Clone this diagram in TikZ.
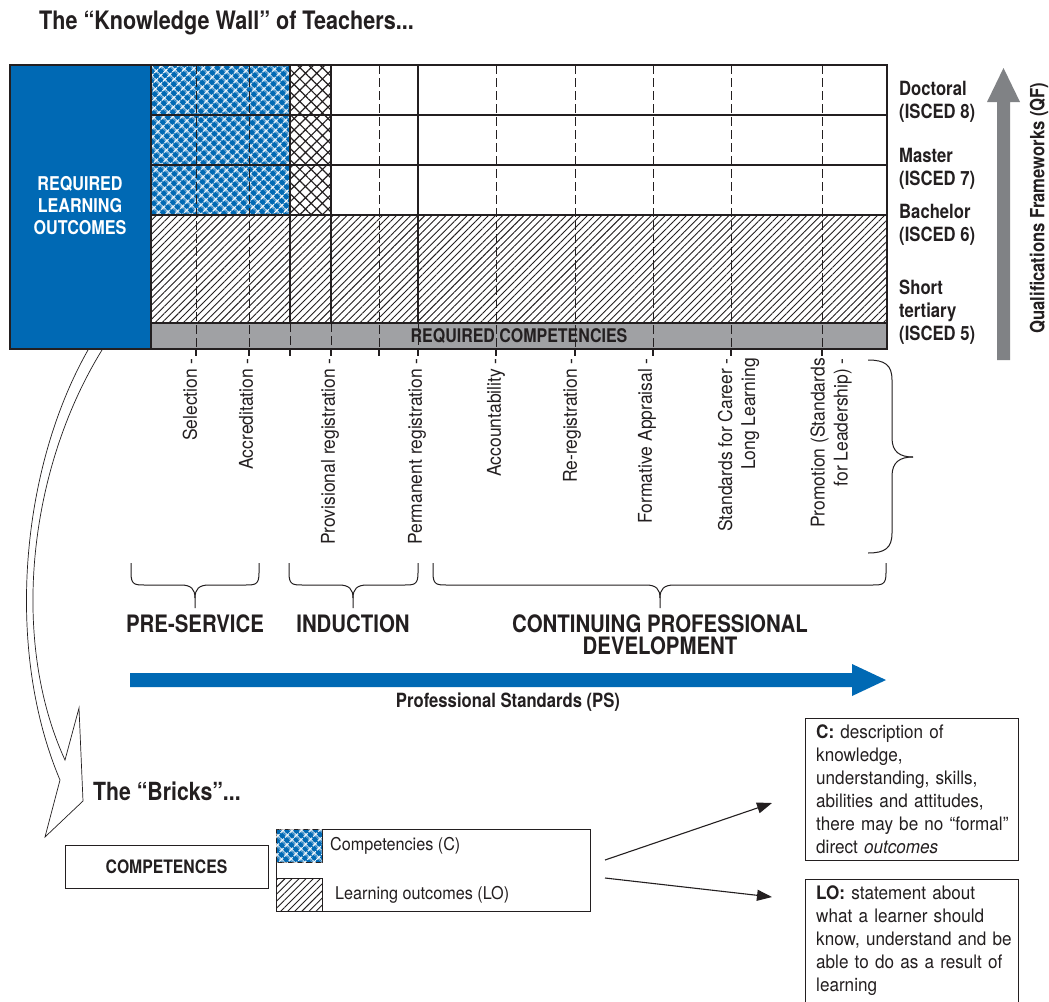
\documentclass[tikz,border=0pt]{standalone}
\usepackage{fontspec}
\setmainfont{TeX Gyre Heros}[FakeStretch=0.92]
\newfontfamily\bcn{TeX Gyre Heros}[FakeStretch=0.85]
\usetikzlibrary{patterns.meta,arrows.meta}
\definecolor{wallblue}{RGB}{0,105,180}
\definecolor{bandgray}{RGB}{160,161,164}
\definecolor{arrowgray}{RGB}{128,130,133}
\definecolor{ink}{RGB}{35,31,32}
\tikzset{
  hd/.style={font=\bcn\bfseries\fontsize{24}{22}\selectfont, text=ink, inner sep=0pt},
  sm/.style={font=\bcn\bfseries\fontsize{19.6}{23}\selectfont, text=ink, inner sep=0pt},
  reg/.style={font=\fontsize{19}{23}\selectfont, text=ink, inner sep=0pt},
  boxtxt/.style={font=\fontsize{18.6}{23}\selectfont, text=ink, inner sep=0pt, anchor=north west, text width=200pt, align=left},
  rl/.style={font=\fontsize{19}{23}\selectfont, rotate=90, anchor=east, align=right, inner sep=0pt, text=ink},
  dsh/.style={draw=ink, dash pattern=on 9pt off 4pt, line width=1pt},
  sol/.style={draw=ink, line width=1.1pt},
  bluepat/.style={fill=wallblue, postaction={pattern={Hatch[angle=45,distance=6.5pt,line width=1.5pt]}, pattern color=white}},
  hatchpat/.style={pattern={Lines[angle=45,distance=5pt,line width=0.9pt]}, pattern color=ink},
  crosspat/.style={pattern={Hatch[angle=45,distance=8pt,line width=1.2pt]}, pattern color=ink},
  brc/.style={draw=ink, line width=1pt},
}
\newcommand{\hbr}[3]{%
  \draw[brc] (#1,563) -- (#1,573) .. controls (#1,585) and ({#1+4},585) .. ({#1+14},585) -- ({#3-14},585) .. controls ({#3-4},585) and (#3,589) .. (#3,598) -- (#3,608);
  \draw[brc] (#2,563) -- (#2,573) .. controls (#2,585) and ({#2-4},585) .. ({#2-14},585) -- ({#3+14},585) .. controls ({#3+4},585) and (#3,589) .. (#3,598);}
\begin{document}
\begin{tikzpicture}[x=1pt,y=-1pt]
\useasboundingbox[fill=white] (0,0) rectangle (1049,1001);
% title
\node[hd, font=\bcn\bfseries\fontsize{25.4}{25}\selectfont, anchor=base west] (title) at (39,29) {The “Knowledge Wall” of Teachers...};
% wall regions
\fill[wallblue] (10,65) rectangle (151,349);
\path[bluepat] (151,65) rectangle (290,215);
\path[crosspat] (290,65) rectangle (331,215);
\path[hatchpat] (151,215) rectangle (887,323);
\fill[bandgray] (151,323) rectangle (887,349);
\foreach \yy in {115,165,215,323} \draw[sol] (151,\yy) -- (887,\yy);
\foreach \x in {196,249,379,496,575,653,731,822} \draw[dsh] (\x,65) -- (\x,349);
\foreach \x in {290,331,418} {\draw[sol] (\x,65) -- (\x,323); \draw[dsh] (\x,323) -- (\x,349);}
\foreach \x in {196,249,290,331,379,418,496,575,653,731,822} \draw[sol] (\x,349) -- (\x,356);
\draw[sol] (10,65) rectangle (887,349);
\draw[sol] (151,65) -- (151,349);
\node[font=\bcn\bfseries\fontsize{19}{22}\selectfont, text=white, align=center, inner sep=0pt] (rlo) at (80,206) {REQUIRED\\LEARNING\\OUTCOMES};
\node[sm, font=\bcn\bfseries\fontsize{18.8}{22}\selectfont] (rc) at (519,336) {REQUIRED COMPETENCIES};
% level labels
\node[sm, anchor=west, align=left] (doc) at (899,101.5) {Doctoral\\(ISCED 8)};
\node[sm, anchor=west, align=left] (mas) at (899,169) {Master\\(ISCED 7)};
\node[sm, anchor=west, align=left] (bac) at (899,224.5) {Bachelor\\(ISCED 6)};
\node[sm, anchor=west, align=left] (sho) at (899,312.5) {Short\\tertiary\\(ISCED 5)};
% QF arrow
\fill[arrowgray] (997,360) -- (997,102) -- (987,102) -- (1003.5,68) -- (1020,102) -- (1010,102) -- (1010,360) -- cycle;
\node[sm, rotate=90] (qf) at (1039,208) {Qualifications Frameworks (QF)};
% rotated labels
\node[rl] (l1) at (190,358) {Selection -};
\node[rl] (l2) at (246,358) {Accreditation -};
\node[rl] (l3) at (330,358) {Provisional registration -};
\node[rl] (l4) at (417,358) {Permanent registration -};
\node[rl] (l5) at (496,358) {Accountability -};
\node[rl] (l6) at (572,358) {Re-registration -};
\node[rl] (l7) at (647,358) {Formative Appraisal -};
\node[rl] (l8) at (738.5,358) {Standards for Career -\\Long Learning};
\node[rl] (l9) at (831,358) {Promotion (Standards\\for Leadership) -};
% right brace
\draw[brc] (868,360) .. controls (885,360) and (892,365) .. (892,380) -- (892,438) .. controls (892,452) and (900,457) .. (913,457);
\draw[brc] (868,553) .. controls (885,553) and (892,548) .. (892,533) -- (892,476) .. controls (892,462) and (900,457) .. (913,457);
% phase braces
\hbr{131}{259}{195}
\hbr{289}{418}{353}
\hbr{433}{886}{660}
\node[hd] (pre) at (195,624) {PRE-SERVICE};
\node[hd] (ind) at (353,624) {INDUCTION};
\node[hd, align=center] (cpd) at (660,635) {CONTINUING PROFESSIONAL\\DEVELOPMENT};
% PS arrow
\fill[wallblue] (130,673) -- (852,673) -- (852,664) -- (886,680) -- (852,696) -- (852,687) -- (130,687) -- cycle;
\node[sm] (pstd) at (508,702) {Professional Standards (PS)};
% hollow curved arrow
\draw[draw=ink, line width=0.7pt, fill=white] (88,350) .. controls (20,470) and (5,650) .. (60,780) -- (45,837) -- (83,801) -- (79,708) -- (65,760) .. controls (10,640) and (28,470) .. (102,350);
% bricks
\node[hd, font=\bcn\bfseries\fontsize{25}{25}\selectfont, anchor=base west] (bricks) at (93,800) {The “Bricks”...};
\node[draw=ink, line width=1pt, minimum width=203pt, minimum height=43pt, font=\bcn\bfseries\fontsize{18.5}{22}\selectfont, text=ink] (comp) at (166.5,866.5) {COMPETENCES};
\node[draw=ink, line width=1pt, minimum width=314pt, minimum height=82pt, inner sep=0pt] (legend) at (433,870) {};
\path[bluepat, draw=ink, line width=1pt] (276,829) rectangle (322,862);
\path[hatchpat, draw=ink, line width=1pt] (276,878) rectangle (322,911);
\node[reg, font=\fontsize{17.6}{22}\selectfont, anchor=west] (lc) at (330,846) {Competencies (C)};
\node[reg, font=\fontsize{17.6}{22}\selectfont, anchor=west] (llo) at (335,895) {Learning outcomes (LO)};
% arrows
\coordinate (a0) at (605,860); \coordinate (a1) at (772,803);
\coordinate (b0) at (605,878); \coordinate (b1) at (772,897);
\draw[draw=ink, line width=1.1pt, -{Triangle[length=15pt,width=11pt]}] (a0) -- (a1);
\draw[draw=ink, line width=1.1pt, -{Triangle[length=15pt,width=11pt]}] (b0) -- (b1);
% definition boxes
\draw[draw=ink, line width=1pt] (805,718) rectangle (1018,860);
\node[boxtxt] (ctxt) at (816,725) {\mbox{\textbf{C:} description of}\\\mbox{knowledge,}\\\mbox{understanding, skills,}\\\mbox{abilities and attitudes,}\\\mbox{there may be no “formal”}\\\mbox{direct \textit{outcomes}}};
\draw[draw=ink, line width=1pt] (805,879) rectangle (1018,1020);
\node[boxtxt] (lotxt) at (816,886) {\mbox{\textbf{LO:} statement about}\\\mbox{what a learner should}\\\mbox{know, understand and be}\\\mbox{able to do as a result of}\\\mbox{learning}};
\end{tikzpicture}
\end{document}
